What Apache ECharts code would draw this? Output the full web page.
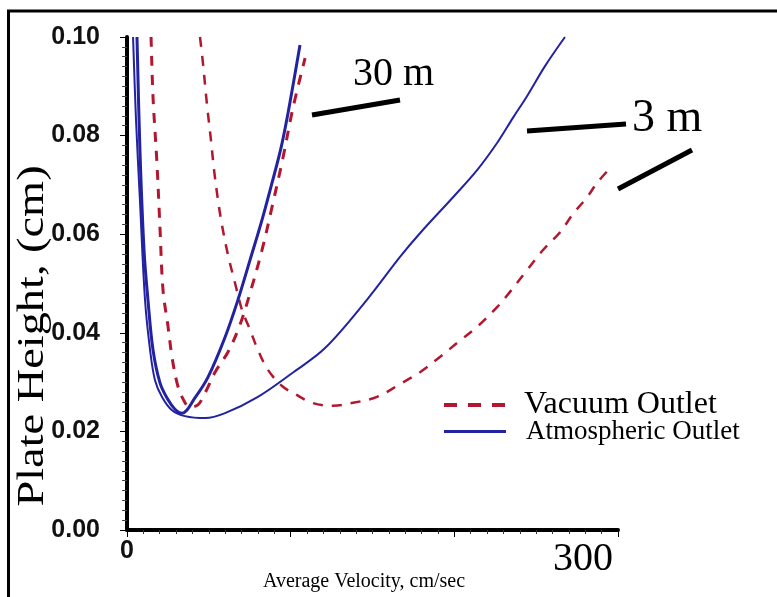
<!DOCTYPE html>
<html>
<head>
<meta charset="utf-8">
<title>Plate Height vs Average Velocity</title>
<script src="https://cdn.jsdelivr.net/npm/echarts@6/dist/echarts.min.js"></script>
<style>
  html, body { margin: 0; padding: 0; background: #ffffff; }
  #chart { width: 777px; height: 597px; }
</style>
</head>
<body>
<div id="chart"></div>
<script>
// Van Deemter style curves: plate height (cm) against average carrier velocity (cm/sec)
// for a 30 m and a 3 m column run with vacuum or atmospheric outlet.

// Vacuum outlet, 30 m column
const vac30Velocity = [14.7, 15.9, 18.3, 20.2, 22.0, 25.1, 27.5, 30.6, 33.6, 38.5, 43.4, 47.7, 53.8, 61.7, 69.0, 75.2, 82.5, 88.6, 95.3, 101.4, 108.8];
const vac30Height   = [0.1000, 0.0878, 0.0744, 0.0609, 0.0487, 0.0412, 0.0351, 0.0298, 0.0270, 0.0249, 0.0254, 0.0278, 0.0320, 0.0361, 0.0416, 0.0481, 0.0568, 0.0655, 0.0755, 0.0856, 0.0957];

// Vacuum outlet, 3 m column
const vac3Velocity = [44.6, 46.4, 48.9, 51.3, 53.2, 55.6, 58.0, 61.7, 66.0, 70.3, 75.2, 80.0, 86.1, 94.7, 102.6, 113.0, 125.9, 138.1, 152.8, 166.8, 179.0, 191.2, 202.2, 213.9, 226.1, 234.0, 244.4, 254.2, 264.6, 272.5, 281.1, 287.2, 295.1];
const vac3Height   = [0.1000, 0.0947, 0.0862, 0.0791, 0.0730, 0.0669, 0.0619, 0.0558, 0.0501, 0.0446, 0.0406, 0.0365, 0.0325, 0.0292, 0.0276, 0.0258, 0.0252, 0.0258, 0.0270, 0.0296, 0.0320, 0.0351, 0.0381, 0.0412, 0.0452, 0.0483, 0.0527, 0.0568, 0.0604, 0.0641, 0.0675, 0.0704, 0.0734];

// Atmospheric outlet, 30 m column
const atm30Velocity = [6.1, 7.9, 10.4, 12.8, 15.9, 20.2, 25.1, 29.3, 33.6, 41.5, 49.5, 59.9, 67.8, 75.2, 82.5, 88.6, 94.1, 98.4, 102.0, 105.7];
const atm30Height   = [0.1000, 0.0771, 0.0568, 0.0467, 0.0365, 0.0298, 0.0264, 0.0245, 0.0237, 0.0268, 0.0310, 0.0391, 0.0467, 0.0548, 0.0629, 0.0704, 0.0775, 0.0846, 0.0913, 0.0984];

// Atmospheric outlet, 3 m column
const atm3Velocity = [3.7, 5.5, 7.9, 11.0, 14.1, 17.1, 21.4, 27.5, 35.4, 47.7, 59.9, 80.0, 100.8, 121.0, 146.6, 166.8, 179.0, 199.2, 213.9, 226.1, 235.8, 244.4, 255.4, 267.6];
const atm3Height   = [0.1000, 0.0832, 0.0669, 0.0467, 0.0365, 0.0304, 0.0270, 0.0243, 0.0231, 0.0227, 0.0237, 0.0270, 0.0318, 0.0369, 0.0467, 0.0554, 0.0602, 0.0675, 0.0730, 0.0785, 0.0836, 0.0880, 0.0941, 0.1000];

// Axis ranges and labels
const velocityRange = [0, 300];
const heightRange = [0, 0.10];
const heightStep = 0.02;
const seriesNames = ['Vacuum Outlet', 'Atmospheric Outlet'];
const columnLabels = ['30 m', '3 m'];
const xAxisTitle = 'Average Velocity, cm/sec';
const yAxisTitle = 'Plate Height, (cm)';

const pairs = (xs, ys) => xs.map((x, i) => [x, ys[i]]);

const RED = '#b3172f';
const BLUE = '#2222a2';
const SERIF = '"Liberation Serif", "Times New Roman", serif';
const SANS = '"Liberation Sans", Arial, sans-serif';

const chart = echarts.init(document.getElementById('chart'), null, { renderer: 'canvas' });

chart.setOption({
  animation: false,
  backgroundColor: '#ffffff',
  grid: { left: 127, right: 159, top: 37, bottom: 67, containLabel: false },
  xAxis: {
    type: 'value',
    min: velocityRange[0],
    max: velocityRange[1],
    interval: 100,
    splitLine: { show: false },
    axisLine: { lineStyle: { color: '#000', width: 4 } },
    axisTick: { length: 7, lineStyle: { color: '#000', width: 1 } },
    minorTick: { show: true, splitNumber: 10, length: 4, lineStyle: { color: '#333', width: 1 } },
    axisLabel: {
      margin: 9,
      alignMaxLabel: 'right',
      formatter: v => v === velocityRange[0] ? '{s|' + v + '}' : (v === velocityRange[1] ? '{t|' + v + '}' : ''),
      rich: {
        s: { fontFamily: SANS, fontWeight: 'bold', fontSize: 25, color: '#111' },
        t: { fontFamily: SERIF, fontSize: 40, color: '#000', padding: [0, 5, 0, 0] }
      }
    }
  },
  yAxis: {
    type: 'value',
    min: heightRange[0],
    max: heightRange[1],
    interval: heightStep,
    splitLine: { show: false },
    axisLine: { show: true, lineStyle: { color: '#000', width: 4 } },
    axisTick: { show: true, length: 7, lineStyle: { color: '#000', width: 1 } },
    minorTick: { show: true, splitNumber: 10, length: 5, lineStyle: { color: '#444', width: 1 } },
    axisLabel: {
      margin: 27,
      fontFamily: SANS,
      fontWeight: 'bold',
      fontSize: 25,
      color: '#111',
      formatter: v => v.toFixed(2)
    }
  },
  legend: {
    orient: 'vertical',
    left: 442,
    top: 389,
    padding: 0,
    itemWidth: 62,
    itemHeight: 14,
    itemGap: -3,
    formatter: name => (name === seriesNames[0] ? '{v|' : '{a|') + name + '}',
    textStyle: {
      color: '#000',
      rich: {
        v: { fontFamily: SERIF, fontSize: 32, lineHeight: 27, padding: [0, 0, 0, 13] },
        a: { fontFamily: SERIF, fontSize: 27, lineHeight: 27, padding: [0, 0, 0, 15] }
      }
    },
    data: [
      { name: seriesNames[0], itemStyle: { opacity: 0 }, lineStyle: { type: [13, 11], width: 4, color: RED } },
      { name: seriesNames[1], itemStyle: { opacity: 0 }, lineStyle: { type: 'solid', width: 3, color: BLUE } }
    ]
  },
  series: [
    {
      name: seriesNames[0], type: 'line', smooth: 0.35, symbol: 'none', clip: false,
      lineStyle: { color: RED, width: 3, type: [10, 9] },
      data: pairs(vac30Velocity, vac30Height)
    },
    {
      name: seriesNames[0], type: 'line', smooth: 0.35, symbol: 'none', clip: false,
      lineStyle: { color: RED, width: 2.5, type: [10, 9] },
      data: pairs(vac3Velocity, vac3Height)
    },
    {
      name: seriesNames[1], type: 'line', smooth: 0.35, symbol: 'none', clip: false,
      lineStyle: { color: BLUE, width: 3 },
      data: pairs(atm30Velocity, atm30Height)
    },
    {
      name: seriesNames[1], type: 'line', smooth: 0.35, symbol: 'none', clip: false,
      lineStyle: { color: BLUE, width: 2 },
      data: pairs(atm3Velocity, atm3Height)
    }
  ],
  graphic: [
    // outer frame
    { type: 'rect', silent: true, shape: { x: 8.5, y: 11, width: 900, height: 900 },
      style: { fill: 'none', stroke: '#000', lineWidth: 3 } },
    // axis titles
    { type: 'text', silent: true, x: 364, y: 582,
      style: { text: xAxisTitle, font: '20px ' + SERIF, fill: '#000', align: 'center', verticalAlign: 'middle' } },
    { type: 'text', silent: true, x: 33, y: 336, rotation: Math.PI / 2, scaleX: 1.22,
      style: { text: yAxisTitle, font: '38px ' + SERIF, fill: '#000', align: 'center', verticalAlign: 'middle' } },
    // column length callouts
    { type: 'text', silent: true, x: 353, y: 74,
      style: { text: columnLabels[0], font: '40px ' + SERIF, fill: '#000', align: 'left', verticalAlign: 'middle' } },
    { type: 'line', silent: true, shape: { x1: 312, y1: 115, x2: 400, y2: 100 },
      style: { stroke: '#000', lineWidth: 5 } },
    { type: 'text', silent: true, x: 632, y: 119,
      style: { text: columnLabels[1], font: '46px ' + SERIF, fill: '#000', align: 'left', verticalAlign: 'middle' } },
    { type: 'line', silent: true, shape: { x1: 527, y1: 131, x2: 626, y2: 124 },
      style: { stroke: '#000', lineWidth: 5 } },
    { type: 'line', silent: true, shape: { x1: 618, y1: 189, x2: 692, y2: 150 },
      style: { stroke: '#000', lineWidth: 5 } }
  ]
});
</script>
</body>
</html>
